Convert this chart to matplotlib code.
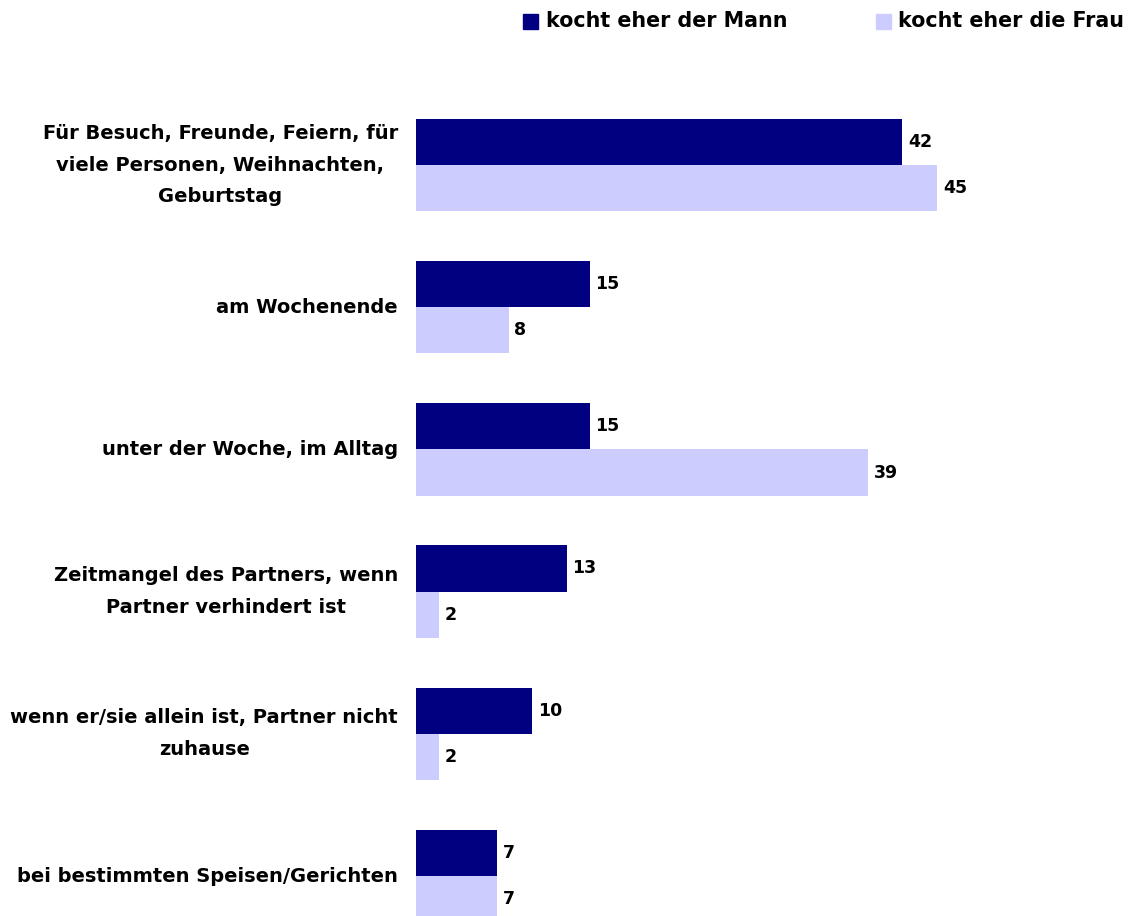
import matplotlib.pyplot as plt
import numpy as np
from matplotlib.patches import Rectangle

plt.rcParams['font.family'] = ['DejaVu Sans']
plt.rcParams['font.weight'] = 'bold'

categories = [
    "Für Besuch, Freunde, Feiern, für\nviele Personen, Weihnachten,\nGeburtstag",
    "am Wochenende",
    "unter der Woche, im Alltag",
    "Zeitmangel des Partners, wenn\nPartner verhindert ist",
    "wenn er/sie allein ist, Partner nicht\nzuhause",
    "bei bestimmten Speisen/Gerichten",
]
mann = [42, 15, 15, 13, 10, 7]
frau = [45, 8, 39, 2, 2, 7]
series_names = ["kocht eher der Mann", "kocht eher die Frau"]

dark = "#000080"
light = "#ccccff"

fig = plt.figure(figsize=(11.33, 9.16), dpi=100)
W, H = 1133, 916
# axes from x=416px to 1100px, y from 100px to bottom
ax = fig.add_axes([416 / W, 0, (1100 - 416) / W, (916 - 100) / H])

y = np.arange(len(categories))
h = 0.325
ax.barh(y - h / 2, mann, height=h, color=dark)
ax.barh(y + h / 2, frau, height=h, color=light)

ax.set_xlim(0, (1100 - 416) / 11.58)
ax.set_ylim(y[-1] + (916 - 876) / 142.2, -(165 - 100) / 142.2)

for i in range(len(categories)):
    ax.text(mann[i] + 0.5, y[i] - h / 2, str(mann[i]), va='center', ha='left',
            fontsize=12.5, fontweight='bold')
    ax.text(frau[i] + 0.5, y[i] + h / 2, str(frau[i]), va='center', ha='left',
            fontsize=12.5, fontweight='bold')
    ax.text(-1.55, y[i], categories[i], va='center', ha='right', fontsize=14,
            fontweight='bold', multialignment='center', linespacing=1.85)

for s in ax.spines.values():
    s.set_visible(False)
ax.set_xticks([])
ax.set_yticks([])

# legend
fig.patches.append(Rectangle((523 / W, 1 - 29 / H), 15 / W, 15 / H, color=dark,
                             transform=fig.transFigure, figure=fig))
fig.text(546 / W, 1 - 21 / H, series_names[0], va='center', ha='left',
         fontsize=14.9, fontweight='bold')
fig.patches.append(Rectangle((876 / W, 1 - 29 / H), 15 / W, 15 / H, color=light,
                             transform=fig.transFigure, figure=fig))
fig.text(898 / W, 1 - 21 / H, series_names[1], va='center', ha='left',
         fontsize=14.9, fontweight='bold')

fig.savefig("out.png", dpi=100)
